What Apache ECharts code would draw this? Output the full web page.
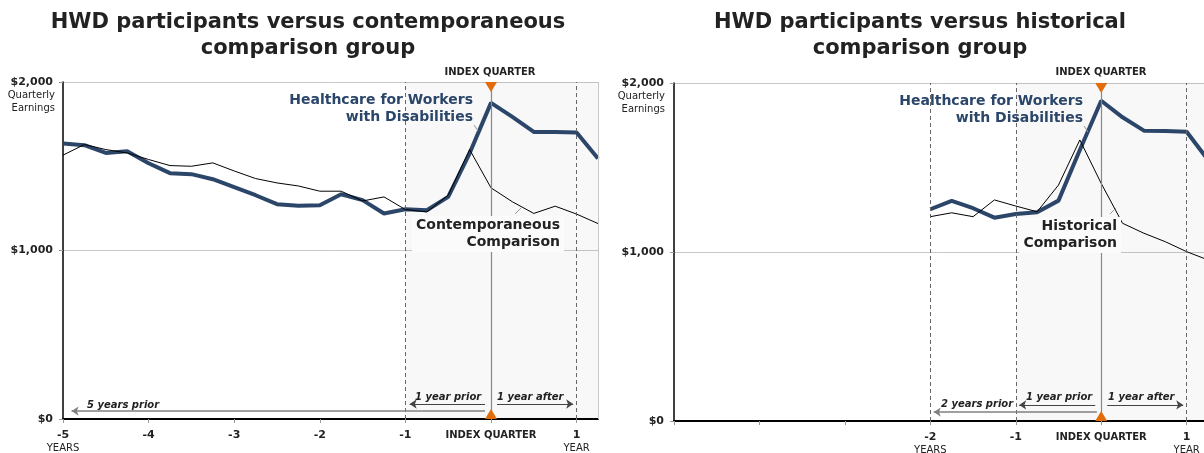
<!DOCTYPE html>
<html>
<head>
<meta charset="utf-8">
<script src="https://cdn.jsdelivr.net/npm/echarts@6/dist/echarts.min.js"></script>
<style>html,body{margin:0;padding:0;background:#fff}#chart{width:1204px;height:453px}</style>
</head>
<body>
<div id="chart"></div>
<script>
// quarters relative to the index quarter
var quartersLeft = [-20,-19,-18,-17,-16,-15,-14,-13,-12,-11,-10,-9,-8,-7,-6,-5,-4,-3,-2,-1,0,1,2,3,4,5];
var hwdLeft = [1635,1625,1579,1589,1518,1459,1453,1423,1376,1328,1275,1265,1269,1334,1299,1220,1245,1239,1318,1577,1876,1793,1704,1704,1700,1546];
var contemporaneous = [1566,1629,1599,1579,1540,1504,1500,1520,1472,1427,1401,1383,1352,1352,1294,1318,1243,1229,1328,1599,1372,1289,1220,1263,1216,1160];

var quartersRight = [-8,-7,-6,-5,-4,-3,-2,-1,0,1,2,3,4,5];
var hwdRight = [1253,1302,1259,1203,1225,1235,1304,1604,1895,1797,1718,1716,1712,1545];
var historical = [1209,1232,1209,1308,1272,1238,1396,1663,1406,1170,1111,1061,1002,953];

var yTickLabels = {0: '$0', 1000: '$1,000', 2000: '$2,000'};
var xTickLabels = {'-5': '-5', '-4': '-4', '-3': '-3', '-2': '-2', '-1': '-1', '0': 'INDEX QUARTER', '1': '1'};
var xTicks = [-5,-4,-3,-2,-1,0,1];
var xLabelsLeft = [-5,-4,-3,-2,-1,0,1];
var xLabelsRight = [-2,-1,0,1];

var FONT = '"DejaVu Sans", Verdana, sans-serif';
var NAVY = '#2b4669';
var ORANGE = '#e36c0a';

function pairs(qs, vals) {
    return qs.map(function (q, i) { return [q / 4, vals[i]]; });
}

function xLabel(firstYear) {
    return function (v) {
        var t = xTickLabels[String(v)];
        if (t === undefined) return '';
        if (v === 0) return '{q|' + t + '}';
        if (v === firstYear) return '{b|' + t + '}\n{s|YEARS}';
        if (v === 1) return '{b|' + t + '}\n{s|YEAR}';
        return '{b|' + t + '}';
    };
}

function xAxisCfg(grid, labels, firstYear) {
    return {
        type: 'value', gridIndex: grid, min: -5, max: 1.25,
        axisLine: {onZero: false, lineStyle: {color: '#000', width: 2}},
        axisTick: {show: true, length: 4, lineStyle: {color: '#999'}, customValues: xTicks},
        axisLabel: {
            customValues: labels, margin: 10, formatter: xLabel(firstYear),
            rich: {
                b: {fontFamily: FONT, fontWeight: 'bold', fontSize: 11, color: '#222', lineHeight: 13},
                q: {fontFamily: FONT, fontWeight: 'bold', fontSize: 10, color: '#222', lineHeight: 13},
                s: {fontFamily: FONT, fontSize: 10, color: '#222', lineHeight: 12}
            }
        },
        splitLine: {show: false}
    };
}

function yAxisCfg(grid) {
    return {
        type: 'value', gridIndex: grid, min: 0, max: 2000, interval: 1000,
        axisLine: {show: true, onZero: false, lineStyle: {color: '#000', width: 1.5}},
        axisTick: {show: true, length: 4, lineStyle: {color: '#999'}},
        axisLabel: {
            margin: 10, fontFamily: FONT, fontWeight: 'bold', fontSize: 11, color: '#222',
            formatter: function (v) { return yTickLabels[v] || ''; }
        },
        splitLine: {show: true, lineStyle: {color: '#c8c8c8', width: 1}}
    };
}

function arrow(x1, x2, y, headAt, color, width) {
    return [
        {coord: [x1, y], symbol: headAt === 'start' ? 'arrow' : 'none', lineStyle: {color: color, width: width, type: 'solid'}},
        {coord: [x2, y], symbol: headAt === 'end' ? 'arrow' : 'none'}
    ];
}

function vline(x, kind) {
    var styles = {
        dashed: {color: '#666', width: 1, type: [4, 3]},
        index: {color: '#888', width: 1.2, type: 'solid'},
        border: {color: '#c8c8c8', width: 1, type: 'solid'}
    };
    return {xAxis: x, lineStyle: styles[kind]};
}

var downTri = 'path://M0,0 L10,0 L5,9 Z';
var upTri = 'path://M5,0 L10,9 L0,9 Z';

function hwdSeries(grid, qs, vals, lines) {
    return {
        type: 'line', xAxisIndex: grid, yAxisIndex: grid, name: 'HWD',
        data: pairs(qs, vals), symbol: 'none', z: 3,
        lineStyle: {color: NAVY, width: 4}, silent: true,
        markArea: {silent: true, itemStyle: {color: 'rgba(0,0,0,0.028)'}, data: [[{xAxis: -1}, {xAxis: 1.25}]]},
        markLine: {silent: true, symbol: ['none', 'none'], symbolSize: 7, label: {show: false}, data: lines},
        markPoint: {
            silent: true, label: {show: false},
            data: [
                {coord: [0, 2000], symbol: downTri, symbolSize: [12, 10], symbolOffset: [0, 5], itemStyle: {color: ORANGE}},
                {coord: [0, 0], symbol: upTri, symbolSize: [12, 10], symbolOffset: [0, -5], itemStyle: {color: ORANGE}}
            ]
        }
    };
}

function compSeries(grid, qs, vals, name) {
    return {
        type: 'line', xAxisIndex: grid, yAxisIndex: grid, name: name,
        data: pairs(qs, vals), symbol: 'none', z: 4, silent: true,
        lineStyle: {color: '#000', width: 1}
    };
}

function txt(text, x, y, opts) {
    opts = opts || {};
    return {
        type: 'text', z: 100, silent: true,
        style: {
            text: text, x: x, y: y,
            align: opts.align || 'left', verticalAlign: 'middle',
            fill: opts.color || '#222',
            font: opts.font || ('bold 14px ' + FONT),
            lineHeight: opts.lineHeight || 17,
            backgroundColor: opts.bg, padding: opts.bg ? [1, 4] : 0
        }
    };
}

function seg(x1, y1, x2, y2) {
    return {type: 'line', z: 100, silent: true, shape: {x1: x1, y1: y1, x2: x2, y2: y2}, style: {stroke: '#999', lineWidth: 1}};
}

var myChart = echarts.init(document.getElementById('chart'));

var italic = 'italic bold 10px ' + FONT;
var small = '10px ' + FONT;
var idx = 'bold 10px ' + FONT;

option = {
    animation: false,
    backgroundColor: '#fff',
    title: [
        {text: 'HWD participants versus contemporaneous\ncomparison group', left: 303, top: 5, textAlign: 'center',
         textStyle: {fontFamily: FONT, fontWeight: 'bold', fontSize: 21, color: '#222', lineHeight: 26}},
        {text: 'HWD participants versus historical\ncomparison group', left: 915, top: 5, textAlign: 'center',
         textStyle: {fontFamily: FONT, fontWeight: 'bold', fontSize: 21, color: '#222', lineHeight: 26}}
    ],
    grid: [
        {left: 63, top: 82, width: 535, height: 337, show: false, outerBoundsMode: 'none'},
        {left: 674, top: 83, width: 534, height: 338, show: false, outerBoundsMode: 'none'}
    ],
    xAxis: [xAxisCfg(0, xLabelsLeft, -5), xAxisCfg(1, xLabelsRight, -2)],
    yAxis: [yAxisCfg(0), yAxisCfg(1)],
    series: [
        hwdSeries(0, quartersLeft, hwdLeft, [
            vline(1.25, 'border'),
            vline(-1, 'dashed'), vline(1, 'dashed'), vline(0, 'index'),
            arrow(-4.9, -0.07, 47, 'start', '#808080', 1.5),
            arrow(-0.95, -0.07, 89, 'start', '#444', 1),
            arrow(0.07, 0.96, 89, 'end', '#444', 1)
        ]),
        compSeries(0, quartersLeft, contemporaneous, 'Contemporaneous Comparison'),
        hwdSeries(1, quartersRight, hwdRight, [
            vline(-2, 'dashed'), vline(-1, 'dashed'), vline(1, 'dashed'), vline(0, 'index'),
            arrow(-1.96, -0.05, 53, 'start', '#808080', 1.5),
            arrow(-0.96, -0.07, 95, 'start', '#444', 1),
            arrow(0.07, 0.96, 95, 'end', '#444', 1)
        ]),
        compSeries(1, quartersRight, historical, 'Historical Comparison')
    ],
    graphic: [
        txt('Quarterly\nEarnings', 55, 102, {align: 'right', font: small, lineHeight: 13}),
        txt('Quarterly\nEarnings', 665, 103, {align: 'right', font: small, lineHeight: 13}),
        txt('INDEX QUARTER', 490, 72, {align: 'center', font: idx}),
        txt('INDEX QUARTER', 1101, 72, {align: 'center', font: idx}),
        txt('Healthcare for Workers\nwith Disabilities', 473, 109, {align: 'right', color: NAVY}),
        txt('Healthcare for Workers\nwith Disabilities', 1083, 110, {align: 'right', color: NAVY}),
        txt('Contemporaneous\nComparison', 564, 234, {align: 'right', bg: '#fbfbfb'}),
        txt('Historical\nComparison', 1121, 235, {align: 'right', bg: '#fbfbfb'}),
        seg(474, 125, 478, 131), seg(515, 214, 521, 208),
        seg(1084, 126, 1088, 132), seg(1110, 214, 1116, 208),
        txt('5 years prior', 87, 405, {font: italic}),
        txt('1 year prior', 415, 397, {font: italic}),
        txt('1 year after', 497, 397, {font: italic}),
        txt('2 years prior', 941, 404, {font: italic}),
        txt('1 year prior', 1026, 397, {font: italic}),
        txt('1 year after', 1108, 397, {font: italic})
    ]
};
myChart.setOption(option);
</script>
</body>
</html>
